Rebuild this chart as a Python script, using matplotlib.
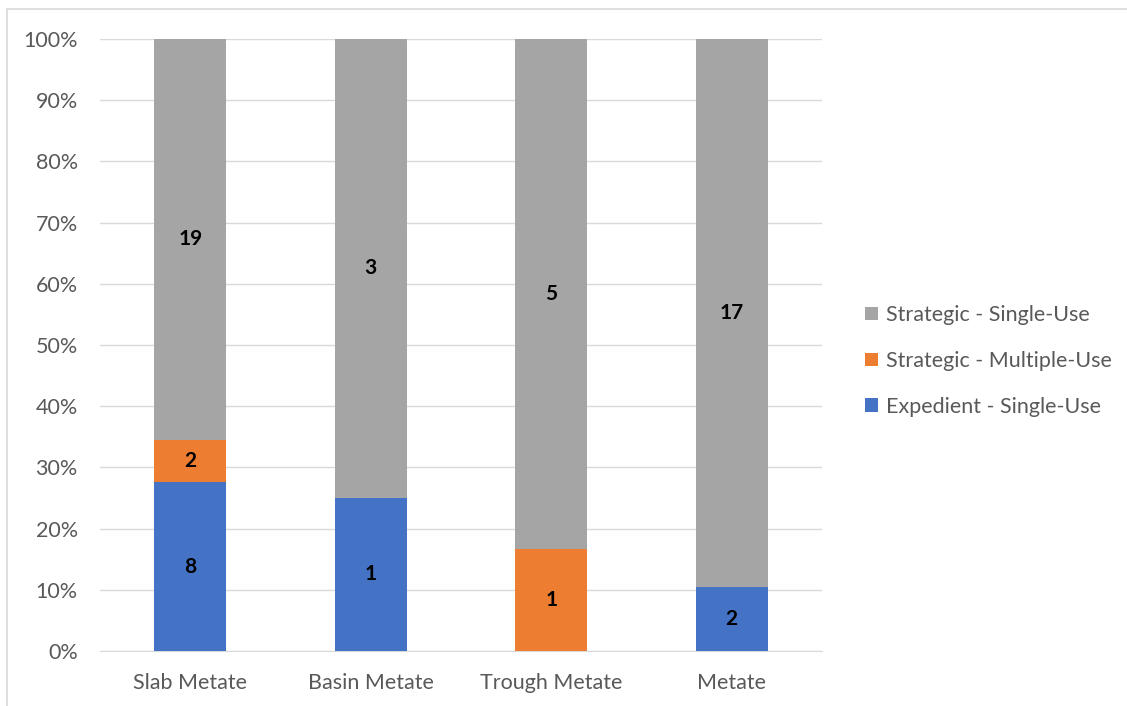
import matplotlib
matplotlib.use("Agg")
import matplotlib.pyplot as plt
from matplotlib.patches import Rectangle
import numpy as np

categories = ["Slab Metate", "Basin Metate", "Trough Metate", "Metate"]
series_names = ["Expedient - Single-Use", "Strategic - Multiple-Use", "Strategic - Single-Use"]
expedient_single = [8, 1, 0, 2]
strategic_multiple = [2, 0, 1, 0]
strategic_single = [19, 3, 5, 17]
colors = ["#4472C4", "#ED7D31", "#A5A5A5"]
y_ticks = [0, 10, 20, 30, 40, 50, 60, 70, 80, 90, 100]

plt.rcParams['font.family'] = ['Lato', 'DejaVu Sans']

fig = plt.figure(figsize=(11.27, 7.06), dpi=100)
ax = fig.add_axes([100/1127, 1-651/706, 722/1127, 612/706])

counts = np.array([expedient_single, strategic_multiple, strategic_single], dtype=float)
totals = counts.sum(axis=0)
pct = counts / totals * 100
x = np.arange(len(categories))
bottom = np.zeros(len(categories))
handles = []
for i in range(3):
    bars = ax.bar(x, pct[i], width=0.4, bottom=bottom, color=colors[i], label=series_names[i], zorder=3)
    handles.append(bars)
    for j in range(len(categories)):
        if counts[i, j] > 0:
            ax.text(x[j], bottom[j] + pct[i, j] / 2, f"{int(counts[i, j])}", ha="center", va="center",
                    fontsize=15, fontweight="bold", color="black", zorder=4)
    bottom += pct[i]

ax.set_xlim(-0.5, len(categories) - 0.5)
ax.set_ylim(0, 100)
ax.set_yticks(y_ticks)
ax.set_yticklabels([f"{v}%" for v in y_ticks])
ax.set_xticks(x)
ax.set_xticklabels(categories)
ax.grid(axis="y", color="#D9D9D9", linewidth=1, zorder=0)
for s in ["top", "right", "left"]:
    ax.spines[s].set_visible(False)
ax.spines["bottom"].set_color("#D9D9D9")
ax.tick_params(axis="both", length=0, labelsize=15.5, colors="#595959")
ax.tick_params(axis="y", pad=16)
ax.tick_params(axis="x", pad=16)

leg = fig.legend([handles[2], handles[1], handles[0]],
                 [series_names[2], series_names[1], series_names[0]],
                 loc="center left", bbox_to_anchor=(846/1127, 1-361/706), frameon=False,
                 fontsize=15.5, handlelength=0.6, handleheight=0.6, handletextpad=0.35,
                 labelspacing=1.2, labelcolor="#595959")

fig.patches.append(Rectangle((7/1127, -0.1), 1.2, 1 - 9/706 + 0.1, transform=fig.transFigure,
                             fill=False, edgecolor="#D9D9D9", linewidth=1.2))

fig.savefig("out.png", dpi=100, facecolor="white")
